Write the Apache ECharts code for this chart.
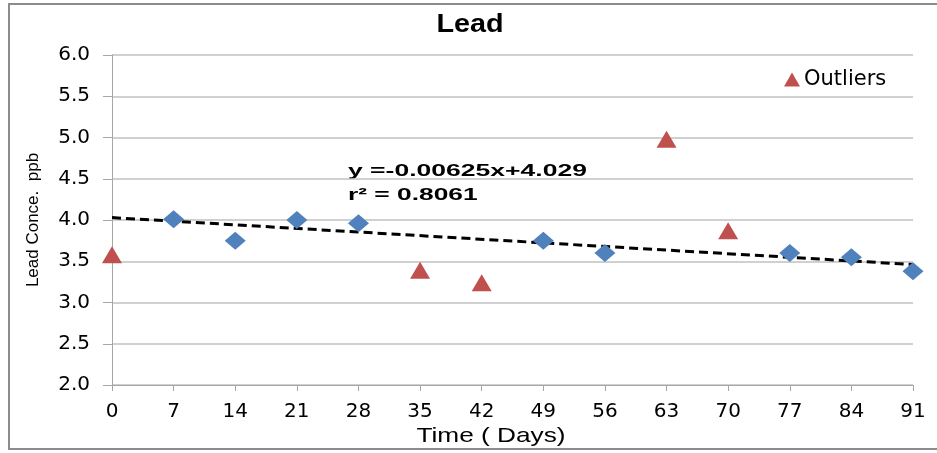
<!DOCTYPE html>
<html>
<head>
<meta charset="utf-8">
<script src="https://cdn.jsdelivr.net/npm/echarts@6/dist/echarts.min.js"></script>
<style>
  html, body { margin: 0; padding: 0; background: #fff; }
  #main { width: 937px; height: 453px; }
</style>
</head>
<body>
<div id="main"></div>
<script>
// measured points (day, ppb)
const normalDays = [7, 14, 21, 28, 49, 56, 77, 84, 91];
const normalValues = [4.01, 3.75, 4.0, 3.96, 3.75, 3.6, 3.6, 3.55, 3.38];
const outlierDays = [0, 35, 42, 63, 70];
const outlierValues = [3.58, 3.39, 3.24, 4.98, 3.87];
// linear fit y = -0.00625x + 4.029
const slope = -0.00625;
const intercept = 4.029;
const trendDays = [0, 91];

const font = 'Liberation Sans, Arial, sans-serif';
const wide = 'DejaVu Sans, sans-serif';
const chart = echarts.init(document.getElementById('main'));

// the source picture is stretched sideways, so some texts get scaleX
function stretchedText(x, y, text, css, sx, align) {
  return {
    type: 'text',
    x: x,
    y: y,
    scaleX: sx,
    silent: true,
    style: {
      text: text,
      font: css,
      fill: '#000',
      align: align,
      verticalAlign: 'middle'
    }
  };
}

const option = {
  animation: false,
  backgroundColor: '#fff',
  legend: {
    data: [{ name: 'Outliers', icon: 'triangle' }],
    left: 779,
    top: 64,
    itemWidth: 16,
    itemHeight: 14,
    itemGap: 4,
    textStyle: { fontFamily: wide, fontSize: 21, color: '#000', padding: [0, 0, 0, -1] }
  },
  grid: { left: 112, right: 24, top: 55, bottom: 68 },
  xAxis: {
    type: 'value',
    min: 0,
    max: 91,
    interval: 7,
    axisLine: { show: true, lineStyle: { color: '#a6a6a6', width: 1 } },
    axisTick: { show: true, length: 6, lineStyle: { color: '#a6a6a6' } },
    axisLabel: { fontFamily: wide, fontSize: 20, color: '#000', margin: 17 },
    splitLine: { show: false }
  },
  yAxis: {
    type: 'value',
    min: 2,
    max: 6,
    interval: 0.5,
    name: 'Lead Conce.  ppb',
    nameLocation: 'middle',
    nameGap: 70,
    nameTextStyle: { fontFamily: font, fontSize: 17, color: '#000' },
    axisLine: { show: true, lineStyle: { color: '#a6a6a6', width: 1 } },
    axisTick: { show: true, length: 9, lineStyle: { color: '#a6a6a6' } },
    axisLabel: {
      fontFamily: wide, fontSize: 20, color: '#000', margin: 22,
      formatter: v => v.toFixed(1)
    },
    splitLine: { show: true, lineStyle: { color: '#c0c0c0', width: 1.5 } }
  },
  graphic: [
    {
      type: 'rect',
      shape: { x: 9, y: 4, width: 940, height: 445 },
      style: { fill: 'none', stroke: '#8c8c8c', lineWidth: 2 },
      silent: true
    },
    stretchedText(470, 25, 'Lead', 'bold 25px ' + font, 1.15, 'center'),
    stretchedText(491, 436, 'Time ( Days)', '21px ' + font, 1.25, 'center'),
    stretchedText(348, 171, 'y =-0.00625x+4.029', 'bold 17px ' + font, 1.56, 'left'),
    stretchedText(348, 195, 'r² = 0.8061', 'bold 17px ' + font, 1.55, 'left')
  ],
  series: [
    {
      name: 'Trend',
      type: 'line',
      data: trendDays.map(d => [d, intercept + slope * d]),
      symbol: 'none',
      lineStyle: { color: '#000', width: 3, type: [9, 5] },
      z: 1
    },
    {
      name: 'Data',
      type: 'scatter',
      data: normalDays.map((d, i) => [d, normalValues[i]]),
      symbol: 'diamond',
      symbolSize: [21, 18],
      itemStyle: { color: '#4f81bd', opacity: 1 },
      z: 3
    },
    {
      name: 'Outliers',
      type: 'scatter',
      data: outlierDays.map((d, i) => [d, outlierValues[i]]),
      symbol: 'triangle',
      symbolSize: [20, 17],
      itemStyle: { color: '#c0504d', opacity: 1 },
      z: 3
    }
  ]
};

chart.setOption(option);
</script>
</body>
</html>
